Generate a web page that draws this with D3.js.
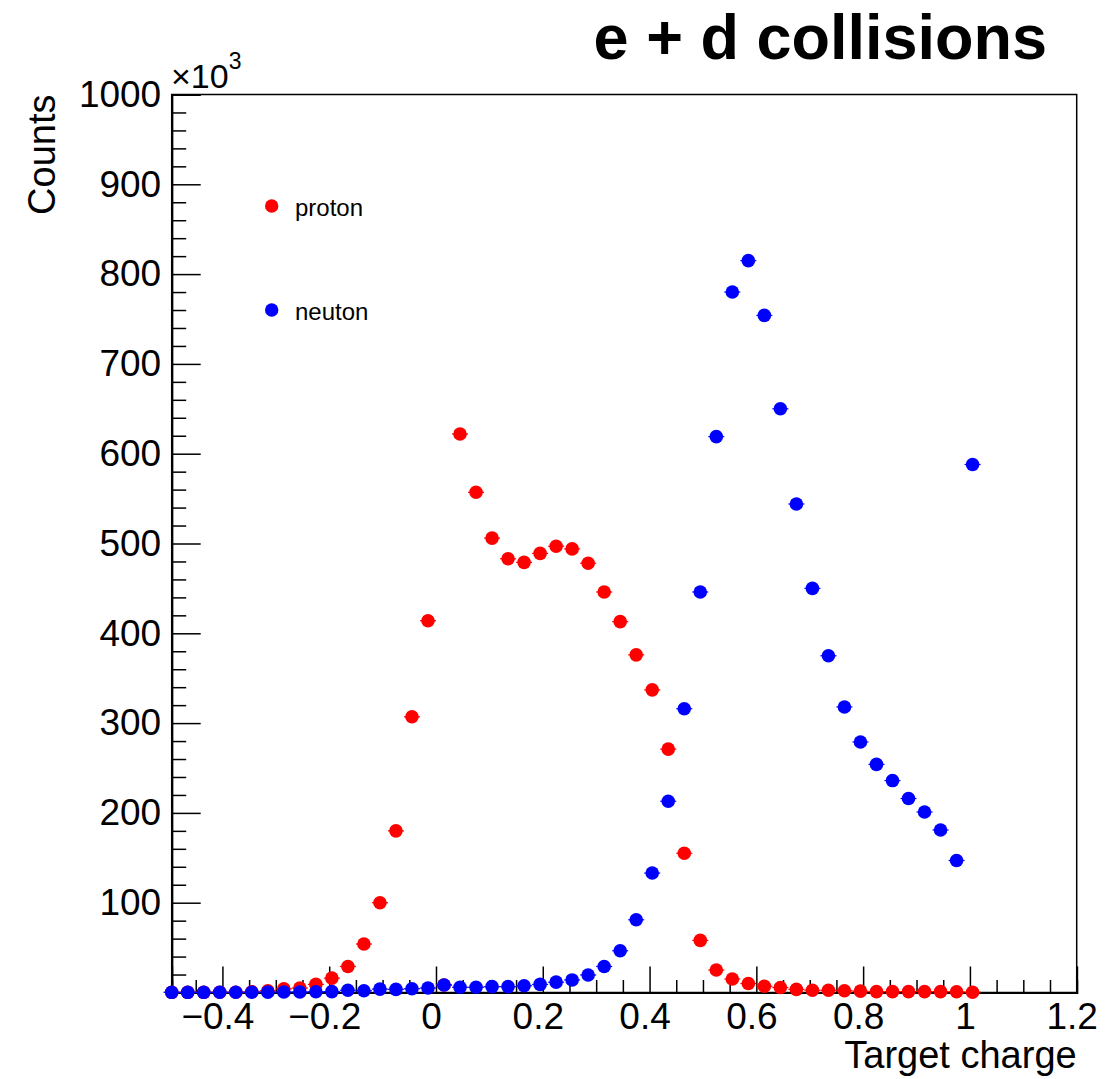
<!DOCTYPE html>
<html>
<head>
<meta charset="utf-8">
<script src="https://cdn.jsdelivr.net/npm/d3@7"></script>
<style>
  html, body { margin: 0; padding: 0; background: #fff; }
  svg { display: block; font-family: "Liberation Sans", Arial, Helvetica, sans-serif; }
</style>
</head>
<body>
<svg id="chart" width="1116" height="1079"></svg>
<script>
// ---- Data (bin centres in target charge, counts in units of 10^3) ----
const binCenters = [-0.495, -0.465, -0.435, -0.405, -0.375, -0.345, -0.315, -0.285, -0.255, -0.225,
  -0.195, -0.165, -0.135, -0.105, -0.075, -0.045, -0.015, 0.015, 0.045, 0.075,
  0.105, 0.135, 0.165, 0.195, 0.225, 0.255, 0.285, 0.315, 0.345, 0.375,
  0.405, 0.435, 0.465, 0.495, 0.525, 0.555, 0.585, 0.615, 0.645, 0.675,
  0.705, 0.735, 0.765, 0.795, 0.825, 0.855, 0.885, 0.915, 0.945, 0.975, 1.005];
const protonCounts = [0.2, 0.2, 0.2, 0.3, 0.3, 0.8, 2, 4, 5, 9,
  16, 29, 54, 100, 180, 307, 414, 8.4, 622, 557,
  506, 483, 479, 489, 497, 494, 478, 446, 413, 376,
  337, 271, 155, 58, 25, 15, 10, 7, 5.5, 3.5,
  2.5, 2.5, 2, 1.5, 1, 1, 1, 1, 1, 0.8, 0.3];
const neutronCounts = [0.2, 0.2, 0.2, 0.3, 0.3, 0.3, 0.4, 0.5, 0.6, 0.8,
  1, 2.5, 2, 3.8, 3.5, 4.2, 5, 8.4, 5.8, 5.8,
  6.5, 6.5, 7.5, 9, 11.5, 14, 19.5, 29, 46.5, 81,
  133, 213, 316, 446, 619, 780, 815, 754, 650, 544,
  450, 375, 318, 279, 254, 236, 216, 201, 181, 147, 588];
const binHalfWidth = 0.015;
const xMajorTicks = [-0.4, -0.2, 0, 0.2, 0.4, 0.6, 0.8, 1, 1.2];
const xMinorTicks = [-0.45, -0.35, -0.3, -0.25, -0.15, -0.1, -0.05, 0.05, 0.1, 0.15, 0.25, 0.3, 0.35,
  0.45, 0.5, 0.55, 0.65, 0.7, 0.75, 0.85, 0.9, 0.95, 1.05, 1.1, 1.15];
const yMajorTicks = [100, 200, 300, 400, 500, 600, 700, 800, 900, 1000];
const yMinorTicks = [20, 40, 60, 80, 120, 140, 160, 180, 220, 240, 260, 280, 320, 340, 360, 380,
  420, 440, 460, 480, 520, 540, 560, 580, 620, 640, 660, 680, 720, 740, 760, 780,
  820, 840, 860, 880, 920, 940, 960, 980];
const seriesNames = ["proton", "neuton"];
const seriesColors = ["#ff0000", "#0000ff"];

// ---- Layout ----
const L = 171.7, R = 1076.7, T = 94.5, B = 992.5;
const svg = d3.select("#chart");
const x = d3.scaleLinear().domain([-0.495, 1.2]).range([L, R]);
const y = d3.scaleLinear().domain([0, 1000]).range([B, T]);

const fmtX = d => (d < 0 ? "\u2212" : "") + d3.format("")(Math.abs(Math.round(d * 10) / 10));

// frame
svg.append("rect").attr("x", L).attr("y", T).attr("width", R - L).attr("height", B - T)
  .attr("fill", "none").attr("stroke", "#000").attr("stroke-width", 1.5);

// x axis
const xAxisG = svg.append("g").attr("transform", `translate(0,${B})`)
  .call(d3.axisBottom(x).tickValues(xMajorTicks).tickSize(-26).tickPadding(10).tickFormat(fmtX));
const xMinorG = svg.append("g").attr("transform", `translate(0,${B})`)
  .call(d3.axisBottom(x).tickValues(xMinorTicks).tickSize(-12.5).tickFormat(""));
// y axis
const yAxisG = svg.append("g").attr("transform", `translate(${L},0)`)
  .call(d3.axisLeft(y).tickValues(yMajorTicks).tickSize(-29).tickPadding(10.5).tickFormat(d3.format("d")));
const yMinorG = svg.append("g").attr("transform", `translate(${L},0)`)
  .call(d3.axisLeft(y).tickValues(yMinorTicks).tickSize(-14.5).tickFormat(""));

[xAxisG, xMinorG, yAxisG, yMinorG].forEach(g => {
  g.select(".domain").attr("stroke", "#000").attr("stroke-width", 2);
  g.selectAll(".tick line").attr("stroke", "#000").attr("stroke-width", 1.5);
  g.selectAll(".tick text").attr("fill", "#000").attr("font-size", 37)
    .attr("font-family", "'Liberation Sans', Arial, Helvetica, sans-serif");
});
xAxisG.selectAll(".tick text").attr("x", -5);

// axis titles
svg.append("text").attr("x", R).attr("y", 1068).attr("text-anchor", "end")
  .attr("font-size", 38).text("Target charge");
svg.append("text").attr("transform", `translate(55,${T}) rotate(-90)`).attr("text-anchor", "end")
  .attr("font-size", 38).text("Counts");

// x10^3 multiplier
const mult = svg.append("text").attr("x", 171).attr("y", 88).attr("font-size", 34);
mult.append("tspan").text("\u00d710");
mult.append("tspan").attr("font-size", 23).attr("dy", -19).text("3");

// title
svg.append("text").attr("x", 1047).attr("y", 59).attr("text-anchor", "end")
  .attr("font-size", 63).attr("font-weight", "bold").text("e + d collisions");

// data series
const series = [protonCounts, neutronCounts];
series.forEach((vals, si) => {
  const pts = vals.map((v, i) => ({ x: binCenters[i], y: v }));
  const g = svg.append("g");
  g.selectAll("line.err").data(pts).enter().append("line")
    .attr("x1", d => x(d.x - binHalfWidth)).attr("x2", d => x(d.x + binHalfWidth))
    .attr("y1", d => y(d.y)).attr("y2", d => y(d.y))
    .attr("stroke", seriesColors[si]).attr("stroke-width", 1.2);
  g.selectAll("circle").data(pts).enter().append("circle")
    .attr("cx", d => x(d.x)).attr("cy", d => y(d.y)).attr("r", 6.8)
    .attr("fill", seriesColors[si]);
});

// legend
const legendY = [206, 310];
seriesNames.forEach((name, i) => {
  svg.append("circle").attr("cx", 271.7).attr("cy", legendY[i]).attr("r", 6.7).attr("fill", seriesColors[i]);
  svg.append("text").attr("x", 295).attr("y", legendY[i] + 10).attr("font-size", 24)
    .attr("fill", "#000").text(name);
});
</script>
</body>
</html>
